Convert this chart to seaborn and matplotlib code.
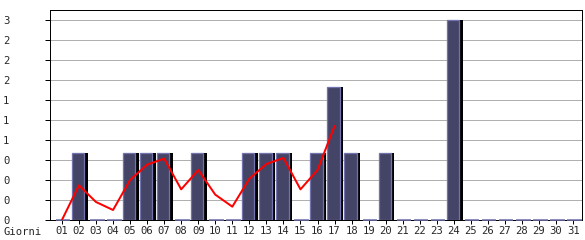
import numpy as np
import pandas as pd
import matplotlib
matplotlib.use("Agg")
import matplotlib.pyplot as plt
import seaborn as sns

days = [f"{d:02d}" for d in range(1, 32)]
visits = [0, 1, 0, 0, 1, 1, 1, 0, 1, 0, 0, 1, 1, 1, 0, 1, 2, 1, 0, 1,
          0, 0, 0, 3, 0, 0, 0, 0, 0, 0, 0]
trend_days = days[:17]
trend = [0, 0.52, 0.27, 0.15, 0.6, 0.83, 0.92, 0.46, 0.75, 0.38, 0.2,
         0.62, 0.84, 0.93, 0.46, 0.75, 1.41]
ytick_vals = [0, 0.3, 0.6, 0.9, 1.2, 1.5, 1.8, 2.1, 2.4, 2.7, 3.0]
ytick_labels = ["0", "0", "0", "0", "1", "1", "1", "2", "2", "2", "3"]

sns.set_theme(style="white")
plt.rcParams["font.family"] = ["DejaVu Sans Mono", "DejaVu Sans"]

DPI = 72
W, H = 585, 240
fig = plt.figure(figsize=(W / DPI, H / DPI), dpi=DPI)
ax = fig.add_axes([50 / W, 20 / H, (582 - 50) / W, (230 - 20) / H])

df = pd.DataFrame({"day": days, "visits": visits})
x = np.arange(len(days))
vis = np.array(visits, dtype=float)

# shadow bars (black), only for non-zero
mask = vis > 0
ax.bar(x[mask] + 0.13, vis[mask], width=0.76, color="black", zorder=3,
       linewidth=0)
n_shadow = int(mask.sum())

sns.barplot(data=df, x="day", y="visits", ax=ax, color="#444466",
            saturation=1, width=0.72, edgecolor="#7272ac", linewidth=1.3,
            zorder=4)
for p in ax.patches[n_shadow:]:
    if p.get_height() == 0:
        p.set_width(0.86)
        p.set_x(p.get_x() - 0.07 + 0.07)
        p.set_clip_on(False)
        p.set_linewidth(1.6)
    else:
        p.set_x(p.get_x() - 0.06)

tdf = pd.DataFrame({"day": trend_days, "v": trend})
sns.lineplot(data=tdf, x="day", y="v", ax=ax, color="#ff0000",
             linewidth=2, zorder=6)

ax.set_xlim(-0.7, 30.52)
ax.set_ylim(0, 3.15)
ax.set_yticks(ytick_vals)
ax.set_yticklabels(ytick_labels, ha="left")
ax.yaxis.grid(True, color="#b0b0b0", linewidth=1)
ax.set_axisbelow(True)
ax.set_xlabel("")
ax.set_ylabel("")
ax.tick_params(axis="y", direction="out", length=5, width=1, color="black",
               pad=42, labelsize=10.5, left=True)
ax.tick_params(axis="x", direction="out", length=4, width=1, color="black",
               pad=2, labelsize=10.5, bottom=True)
for s in ax.spines.values():
    s.set_color("black")
    s.set_linewidth(1)
    s.set_visible(True)

fig.text(3 / W, 1 - 232 / H, "Giorni", fontsize=10.5, va="center", ha="left")
fig.savefig("out.png", dpi=DPI, facecolor="white")
